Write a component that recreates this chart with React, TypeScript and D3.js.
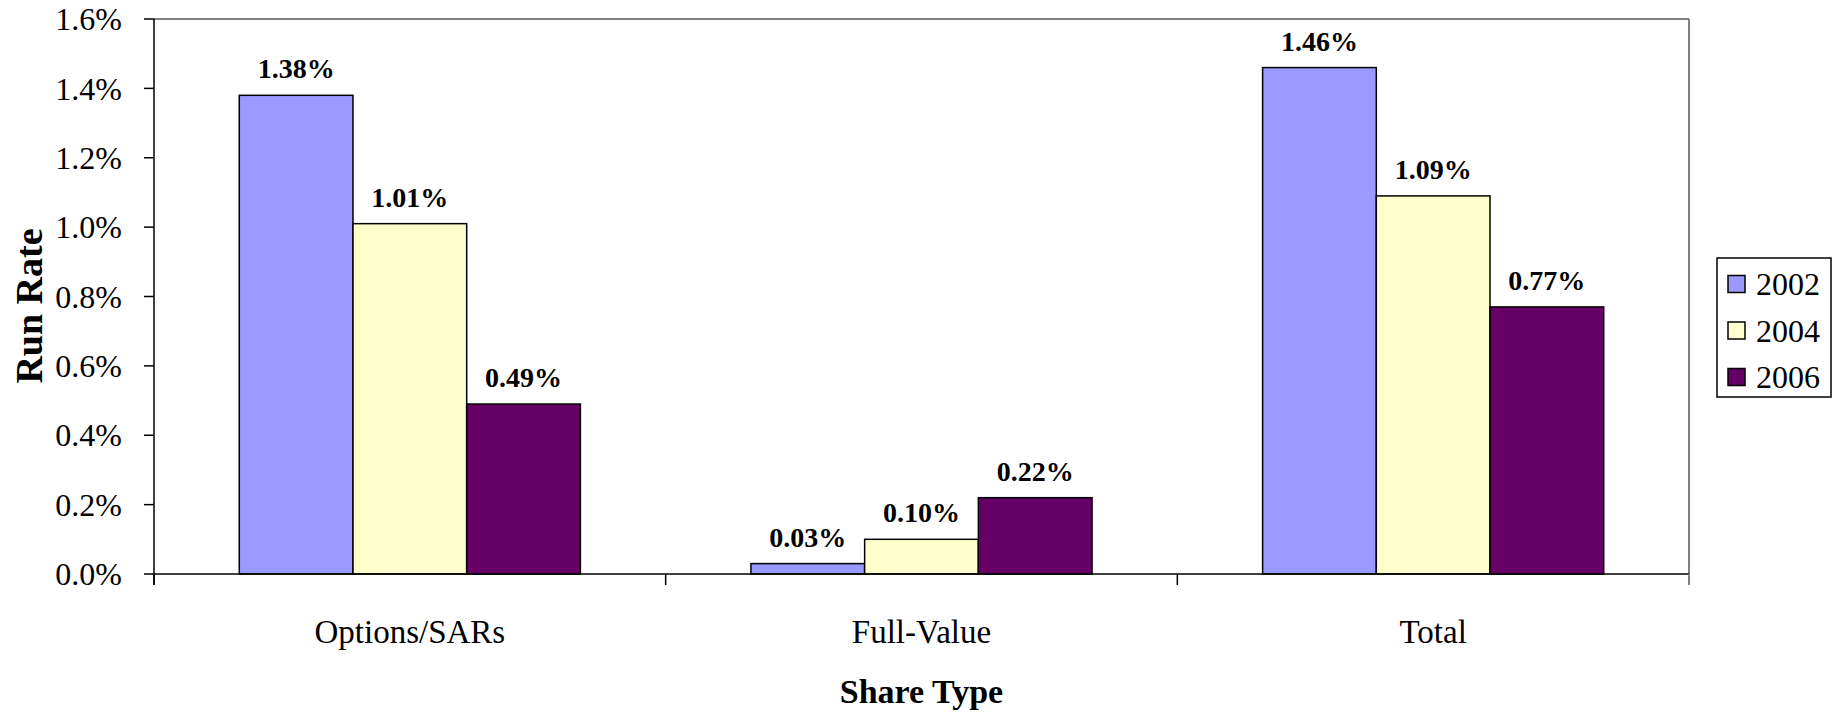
import React from "react";
import * as d3 from "d3";

// Run rate by share type and year
const categories = ["Options/SARs", "Full-Value", "Total"];
const years = ["2002", "2004", "2006"];
const values2002 = [1.38, 0.03, 1.46];
const values2004 = [1.01, 0.1, 1.09];
const values2006 = [0.49, 0.22, 0.77];
const yTicks = [0, 0.2, 0.4, 0.6, 0.8, 1.0, 1.2, 1.4, 1.6];
const seriesColors = ["#9999FF", "#FFFFCC", "#660066"];

const W = 1835;
const H = 714;
const plot = { left: 154, top: 19, right: 1689, bottom: 574 };
const FONT = "'Liberation Serif', 'Times New Roman', serif";

export default function App() {
  const series = [values2002, values2004, values2006];

  const y = d3.scaleLinear().domain([0, 1.6]).range([plot.bottom, plot.top]);
  const x0 = d3.scaleBand<string>().domain(categories).range([plot.left, plot.right]).paddingInner(0).paddingOuter(0);
  // Excel-style gap width of 150%: each group = 3 bars + 1.5 bar gap
  const step = x0.bandwidth();
  const barW = step / 4.5;
  const groupOffset = (step - barW * 3) / 2;

  const catEdges = [plot.left, ...categories.map((c) => (x0(c) as number) + step)];

  return (
    <svg
      width={W}
      height={H}
      style={{ position: "absolute", left: 0, top: 0, background: "#fff" }}
      fontFamily={FONT}
    >
      {/* plot frame */}
      <line x1={plot.left} y1={plot.top} x2={plot.right} y2={plot.top} stroke="#808080" strokeWidth={2} />
      <line x1={plot.right} y1={plot.top} x2={plot.right} y2={plot.bottom} stroke="#808080" strokeWidth={2} />

      {/* bars */}
      {categories.map((c, ci) =>
        series.map((vals, si) => {
          const bx = (x0(c) as number) + groupOffset + si * barW;
          const by = y(vals[ci]);
          return (
            <g key={`${c}-${si}`}>
              <rect
                x={bx}
                y={by}
                width={barW}
                height={plot.bottom - by}
                fill={seriesColors[si]}
                stroke="#000"
                strokeWidth={1.5}
              />
              <text
                x={bx + barW / 2}
                y={by - 17}
                textAnchor="middle"
                fontSize={28}
                fontWeight="bold"
                fill="#000"
              >
                {vals[ci].toFixed(2)}%
              </text>
            </g>
          );
        })
      )}

      {/* y axis */}
      <line x1={plot.left} y1={plot.top} x2={plot.left} y2={plot.bottom + 11} stroke="#000" strokeWidth={1.5} />
      {yTicks.map((t) => (
        <g key={t}>
          <line x1={plot.left - 10} x2={plot.left} y1={y(t)} y2={y(t)} stroke="#000" strokeWidth={1.5} />
          <text x={122} y={y(t)} dy="0.35em" textAnchor="end" fontSize={32} fill="#000">
            {t.toFixed(1)}%
          </text>
        </g>
      ))}

      {/* x axis */}
      <line x1={plot.left} y1={plot.bottom} x2={plot.right} y2={plot.bottom} stroke="#000" strokeWidth={1.5} />
      {catEdges.map((e, i) => (
        <line
          key={i}
          x1={e}
          x2={e}
          y1={plot.bottom}
          y2={plot.bottom + 11}
          stroke={i === catEdges.length - 1 ? "#808080" : "#000"}
          strokeWidth={i === catEdges.length - 1 ? 2 : 1.5}
        />
      ))}
      {categories.map((c) => (
        <text key={c} x={(x0(c) as number) + step / 2} y={643} textAnchor="middle" fontSize={33} fill="#000">
          {c}
        </text>
      ))}

      {/* axis titles */}
      <text x={(plot.left + plot.right) / 2} y={703} textAnchor="middle" fontSize={34} fontWeight="bold" fill="#000">
        Share Type
      </text>
      <text
        transform={`translate(42, 306) rotate(-90)`}
        textAnchor="middle"
        fontSize={38}
        fontWeight="bold"
        fill="#000"
      >
        Run Rate
      </text>

      {/* legend */}
      <rect x={1717} y={258} width={114} height={139} fill="#fff" stroke="#000" strokeWidth={1.5} />
      {years.map((yr, i) => {
        const cy = 284 + i * 46.5;
        return (
          <g key={yr}>
            <rect x={1728} y={cy - 8.5} width={17} height={17} fill={seriesColors[i]} stroke="#000" strokeWidth={1.5} />
            <text x={1756} y={cy} dy="0.35em" fontSize={32} fill="#000">
              {yr}
            </text>
          </g>
        );
      })}
    </svg>
  );
}
